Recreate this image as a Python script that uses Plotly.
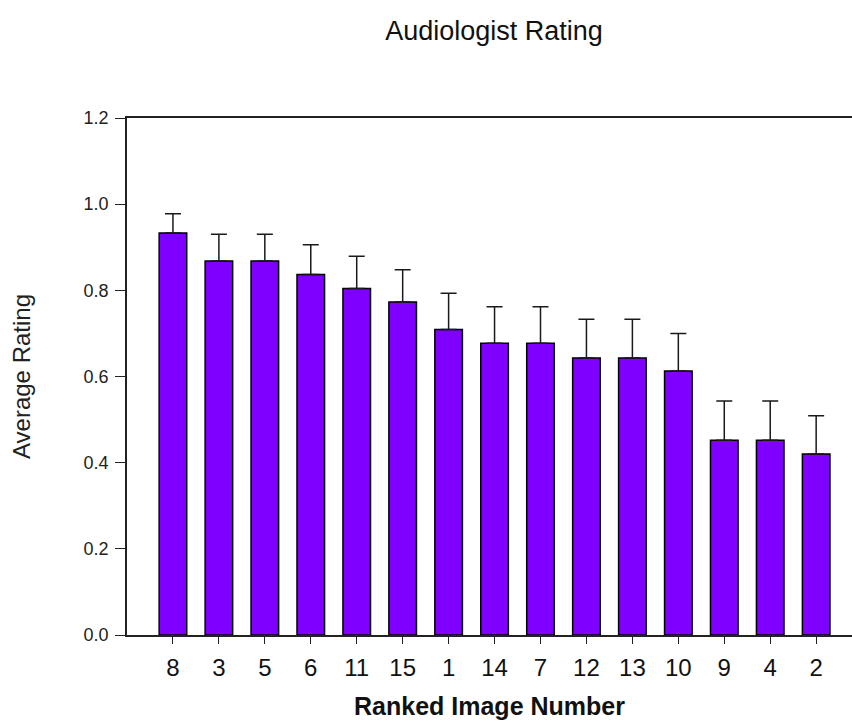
import plotly.graph_objects as go

# Data
image_labels = ["8", "3", "5", "6", "11", "15", "1", "14", "7", "12", "13", "10", "9", "4", "2"]
avg_rating = [0.933, 0.868, 0.868, 0.837, 0.804, 0.773, 0.709, 0.677, 0.677, 0.643, 0.643, 0.613, 0.452, 0.452, 0.420]
error_plus = [0.045, 0.062, 0.062, 0.069, 0.075, 0.075, 0.084, 0.085, 0.085, 0.090, 0.090, 0.087, 0.091, 0.091, 0.089]
error_minus = [0] * len(avg_rating)
y_ticks = [0.0, 0.2, 0.4, 0.6, 0.8, 1.0, 1.2]

FONT = "Liberation Sans, Arial, sans-serif"

fig = go.Figure(
    go.Bar(
        x=image_labels,
        y=avg_rating,
        marker=dict(color="#7F00FF", line=dict(color="#000000", width=1.5)),
        error_y=dict(
            type="data",
            symmetric=False,
            array=error_plus,
            arrayminus=error_minus,
            color="#1a1a1a",
            thickness=1.5,
            width=8,
        ),
        showlegend=False,
    )
)

fig.update_layout(
    width=852,
    height=723,
    margin=dict(l=127, r=0, t=118, b=88, autoexpand=False),
    paper_bgcolor="white",
    plot_bgcolor="white",
    bargap=0.4,
    font=dict(family=FONT, color="#111111"),
    title=dict(
        text="Audiologist Rating",
        font=dict(family=FONT, size=27, color="#111111"),
        x=494 / 852,
        xref="container",
        xanchor="center",
        y=1 - 31 / 723,
        yref="container",
        yanchor="middle",
    ),
)

fig.update_xaxes(
    type="category",
    range=[-1.0, 14.78],
    showline=True,
    linecolor="#222222",
    linewidth=1.5,
    mirror=True,
    ticks="outside",
    ticklen=7,
    tickwidth=1.2,
    tickcolor="#222222",
    ticklabelstandoff=3,
    tickfont=dict(family=FONT, size=24, color="#111111"),
    showgrid=False,
    title=dict(
        text="<b>Ranked Image Number</b>",
        font=dict(family=FONT, size=25, color="#111111"),
        standoff=18,
    ),
)

fig.update_yaxes(
    range=[0, 1.2],
    tickvals=y_ticks,
    tickformat=".1f",
    showline=True,
    linecolor="#222222",
    linewidth=1.5,
    ticks="outside",
    ticklen=10,
    tickwidth=1.2,
    tickcolor="#222222",
    ticklabelstandoff=3,
    tickfont=dict(family=FONT, size=18, color="#222222"),
    showgrid=False,
    zeroline=False,
    title=dict(
        text="Average Rating",
        font=dict(family=FONT, size=24, color="#222222"),
        standoff=46,
    ),
)

# remove the browser's default page margin so the figure sits at the window's top-left
fig.write_html(
    "out.html",
    config={"displayModeBar": False},
    post_script="document.body.style.margin='0';document.body.style.padding='0';",
)
